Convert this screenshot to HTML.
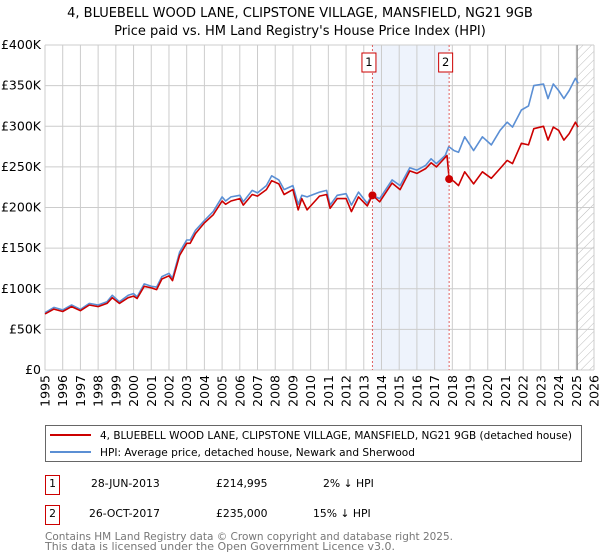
<!DOCTYPE html>
<html><head><meta charset="utf-8"><style>
body{margin:0;background:#fff;width:600px;height:560px;overflow:hidden;font-family:"DejaVu Sans","Liberation Sans",sans-serif;}
svg{display:block}
</style></head><body>
<svg id="chart" width="600" height="560">
<defs>
<pattern id="hatch" width="6" height="6" patternUnits="userSpaceOnUse" patternTransform="rotate(45)">
<line x1="0" y1="0" x2="0" y2="6" stroke="#bbb" stroke-width="1"/>
</pattern>
</defs>
<text x="300" y="17" text-anchor="middle" font-size="13" fill="#000">4, BLUEBELL WOOD LANE, CLIPSTONE VILLAGE, MANSFIELD, NG21 9GB</text>
<text x="300" y="35" text-anchor="middle" font-size="13" fill="#000">Price paid vs. HM Land Registry's House Price Index (HPI)</text>
<g id="grid"></g>
<g id="plot"></g>
<g id="axes"></g>
<rect x="45.5" y="425.5" width="536" height="36" fill="#fff" stroke="#666"/>
<line x1="50" y1="435" x2="91" y2="435" stroke="#cc0000" stroke-width="2"/>
<text x="100" y="439" font-size="10.8" textLength="472" lengthAdjust="spacingAndGlyphs">4, BLUEBELL WOOD LANE, CLIPSTONE VILLAGE, MANSFIELD, NG21 9GB (detached house)</text>
<line x1="50" y1="452" x2="91" y2="452" stroke="#5b8fd4" stroke-width="2"/>
<text x="100" y="456" font-size="10.8" textLength="315" lengthAdjust="spacingAndGlyphs">HPI: Average price, detached house, Newark and Sherwood</text>
<g font-size="10.8">
<rect x="45.5" y="475.5" width="14" height="19" fill="#fff" stroke="#cc0000"/>
<text x="52.5" y="487" text-anchor="middle">1</text>
<text x="91" y="487">28-JUN-2013</text>
<text x="216" y="487">£214,995</text>
<text x="323" y="487">2% ↓ HPI</text>
</g>
<g font-size="10.8">
<rect x="45.5" y="505.5" width="14" height="19" fill="#fff" stroke="#cc0000"/>
<text x="52.5" y="517" text-anchor="middle">2</text>
<text x="89" y="517">26-OCT-2017</text>
<text x="216" y="517">£235,000</text>
<text x="313" y="517">15% ↓ HPI</text>
</g>
<text x="45" y="540" font-size="10.8" textLength="408" lengthAdjust="spacingAndGlyphs" fill="#777">Contains HM Land Registry data © Crown copyright and database right 2025.</text>
<text x="45" y="550" font-size="10.8" textLength="350" lengthAdjust="spacingAndGlyphs" fill="#777">This data is licensed under the Open Government Licence v3.0.</text>
</svg>
<script>
const yTicks=[0,50,100,150,200,250,300,350,400];
const yTickLabels=["£0","£50K","£100K","£150K","£200K","£250K","£300K","£350K","£400K"];
const xYears=[1995,1996,1997,1998,1999,2000,2001,2002,2003,2004,2005,2006,2007,2008,2009,2010,2011,2012,2013,2014,2015,2016,2017,2018,2019,2020,2021,2022,2023,2024,2025,2026];
const hpiDates=[1995.0,1995.5,1996.0,1996.5,1997.0,1997.5,1998.0,1998.5,1998.8,1999.2,1999.7,2000.0,2000.2,2000.6,2001.0,2001.3,2001.6,2002.0,2002.2,2002.6,2003.0,2003.2,2003.5,2004.0,2004.5,2005.0,2005.2,2005.5,2006.0,2006.2,2006.7,2007.0,2007.5,2007.8,2008.2,2008.5,2009.0,2009.3,2009.5,2009.8,2010.5,2010.9,2011.1,2011.5,2012.0,2012.3,2012.7,2013.2,2013.45,2013.9,2014.6,2015.05,2015.6,2016.0,2016.5,2016.8,2017.1,2017.6,2017.8,2018.1,2018.35,2018.7,2019.2,2019.7,2020.2,2020.7,2021.1,2021.4,2021.9,2022.3,2022.6,2023.15,2023.4,2023.7,2024.0,2024.3,2024.6,2024.95,2025.1];
const hpiValues=[70.5,77,74,80,74.6,82,80,84,92,84,92,94,90,106,103,102,115,119,113,145,160,160,172,184,195,213,208,213,215,207,221,218,227,239,234,222,227,204,215,213,219,221,203,215,217,203,219,205,215,211,234,227,249,246,252,260,254,264,275,270,268,287,270,287,277,295,305,299,320,325,350,352,334,352,344,334,344,359,353];
const propDates=[1995.0,1995.5,1996.0,1996.5,1997.0,1997.5,1998.0,1998.5,1998.8,1999.2,1999.7,2000.0,2000.2,2000.6,2001.0,2001.3,2001.6,2002.0,2002.2,2002.6,2003.0,2003.2,2003.5,2004.0,2004.5,2005.0,2005.2,2005.5,2006.0,2006.2,2006.7,2007.0,2007.5,2007.8,2008.2,2008.5,2009.0,2009.3,2009.5,2009.8,2010.5,2010.9,2011.1,2011.5,2012.0,2012.3,2012.7,2013.2,2013.49,2013.9,2014.6,2015.05,2015.6,2016.0,2016.5,2016.8,2017.1,2017.7,2017.82,2018.1,2018.35,2018.7,2019.2,2019.7,2020.2,2020.7,2021.1,2021.4,2021.9,2022.3,2022.6,2023.15,2023.4,2023.7,2024.0,2024.3,2024.6,2024.95,2025.1];
const propValues=[69,75,72,78,73,80,78,82,89,82,89,91,88,103,101,99,112,116,110,141,156,156,168,181,191,208,204,208,211,203,216,214,222,233,229,216,222,197,211,197,214,216,199,211,211,195,213,202,215,207,230,222,245,242,248,255,250,264,236,232,227,244,229,244,236,248,258,254,279,277,297,300,283,299,295,283,291,305,299];
const saleDates=[2013.49,2017.82];
const salePrices=[214.995,235.0];
const saleLabels=["1","2"];

const L=45,R=594,T=45,B=370,X0=1995,X1=2026;
const xs=v=>L+(v-X0)/(X1-X0)*(R-L);
const ys=v=>B-v/400*(B-T);
const NS="http://www.w3.org/2000/svg";
function mk(tag,attrs,parent){const e=document.createElementNS(NS,tag);for(const k in attrs)e.setAttribute(k,attrs[k]);parent.appendChild(e);return e;}
const grid=document.getElementById('grid'),plot=document.getElementById('plot'),axes=document.getElementById('axes');

const sh=mk('rect',{x:xs(saleDates[0]),y:T,width:xs(saleDates[1])-xs(saleDates[0]),height:B-T,fill:'#eef3fc'},grid);


const hx=xs(2025.05);
const ht=mk('rect',{x:hx,y:T,width:R-hx,height:B-T,fill:'url(#hatch)'},grid);



yTicks.forEach((t,i)=>{
  const g=mk('line',{x1:L,x2:R,y1:ys(t),y2:ys(t),stroke:'#ccc','stroke-width':1},grid);
  
  
  const tx=mk('text',{x:L-4,y:ys(t)+4,'text-anchor':'end','font-size':'12.5'},axes);
  tx.textContent=yTickLabels[i];
  
  
});
xYears.forEach(yr=>{
  const g=mk('line',{x1:xs(yr),x2:xs(yr),y1:T,y2:B,stroke:'#ccc','stroke-width':1},grid);
  
  
  const tx=mk('text',{x:0,y:0,'text-anchor':'end','font-size':'12.5',transform:`translate(${xs(yr)+4.5},${B+5}) rotate(-90)`},axes);
  tx.textContent=yr;
  
  
});
const vl=mk('line',{x1:hx,x2:hx,y1:T,y2:B,stroke:'#888','stroke-width':1.2},grid);



function path(d,v){return d.map((x,i)=>(i?'L':'M')+xs(x).toFixed(1)+','+ys(v[i]).toFixed(1)).join('');}
const hp=mk('path',{d:path(hpiDates,hpiValues),fill:'none',stroke:'#5b8fd4','stroke-width':1.6,'stroke-linejoin':'round'},plot);


const pp=mk('path',{d:path(propDates,propValues),fill:'none',stroke:'#cc0000','stroke-width':1.6,'stroke-linejoin':'round'},plot);



saleDates.forEach((d,i)=>{
  const x=xs(d);
  const dl=mk('line',{x1:x,x2:x,y1:T,y2:B,stroke:'#e06060','stroke-width':1,'stroke-dasharray':'2,2'},plot);
  
  
  const c=mk('circle',{cx:x,cy:ys(salePrices[i]),r:4,fill:'#cc0000'},plot);
  
  
  const b=mk('rect',{x:x-10.5,y:53,width:14,height:19,fill:'#fff',stroke:'#cc0000'},plot);
  
  
  const t=mk('text',{x:x-3.5,y:66,'text-anchor':'middle','font-size':'11.5'},plot);
  t.textContent=saleLabels[i];
  
  
});
</script>
</body></html>
